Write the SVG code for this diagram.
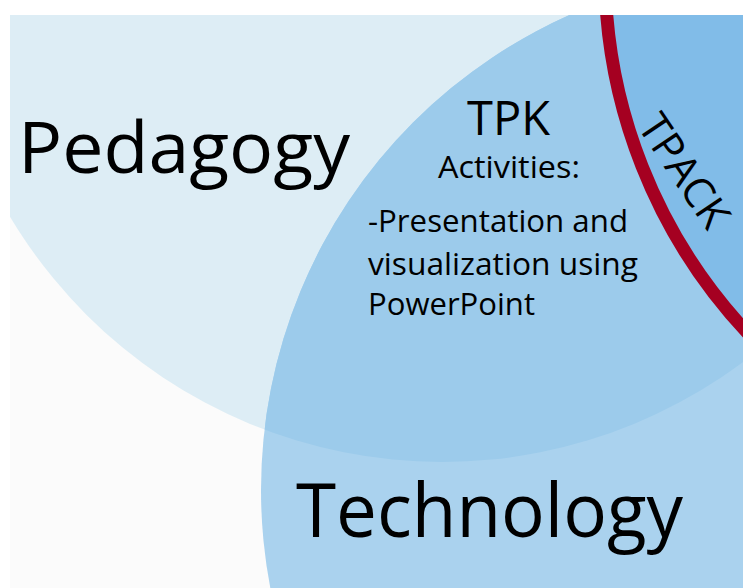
<svg xmlns="http://www.w3.org/2000/svg" width="743" height="588" viewBox="0 0 743 588">
<style>
  .t { font-family: "Open Sans", "Noto Sans", "DejaVu Sans", sans-serif; fill: #000; }
</style>
<defs>
  <clipPath id="frame"><rect x="10" y="15" width="733" height="573"/></clipPath>
  <clipPath id="pedClip"><circle cx="442" cy="-41" r="503"/></clipPath>
</defs>
<rect x="0" y="0" width="743" height="588" fill="#ffffff"/>
<g clip-path="url(#frame)">
  <rect x="10" y="15" width="733" height="573" fill="#fbfbfb"/>
  <g id="pedagogy-circle"><circle cx="442" cy="-41" r="503" fill="#ddedf5"/></g>
  <g id="technology-circle"><circle cx="781" cy="490" r="520" fill="#aad2ee"/></g>
  <g id="tpk-region"><circle cx="781" cy="490" r="520" fill="#9ccbeb" clip-path="url(#pedClip)"/></g>
  <g id="tpack-region"><circle cx="1133" cy="-28" r="528" fill="#81bce8" stroke="#a50021" stroke-width="13"/></g>
</g>
<g id="pedagogy"><text class="t" x="18" y="173" font-size="71" textLength="332" lengthAdjust="spacingAndGlyphs">Pedagogy</text></g>
<g id="technology"><text class="t" x="296" y="537" font-size="75" textLength="387" lengthAdjust="spacingAndGlyphs">Technology</text></g>
<g id="tpk">
  <text class="t" x="467" y="135" font-size="48" textLength="83" lengthAdjust="spacingAndGlyphs">TPK</text>
  <text class="t" x="438" y="178" font-size="31" textLength="142" lengthAdjust="spacingAndGlyphs">Activities:</text>
  <text class="t" x="368" y="232" font-size="31" textLength="260" lengthAdjust="spacingAndGlyphs">-Presentation and</text>
  <text class="t" x="368" y="275" font-size="31" textLength="270" lengthAdjust="spacingAndGlyphs">visualization using</text>
  <text class="t" x="368" y="315" font-size="31" textLength="167" lengthAdjust="spacingAndGlyphs">PowerPoint</text>
</g>
<g id="tpack"><text class="t" x="0" y="0" font-size="42" text-anchor="middle" transform="translate(672 179) rotate(56)">TPACK</text></g>
<g id="connectors"/>
</svg>
